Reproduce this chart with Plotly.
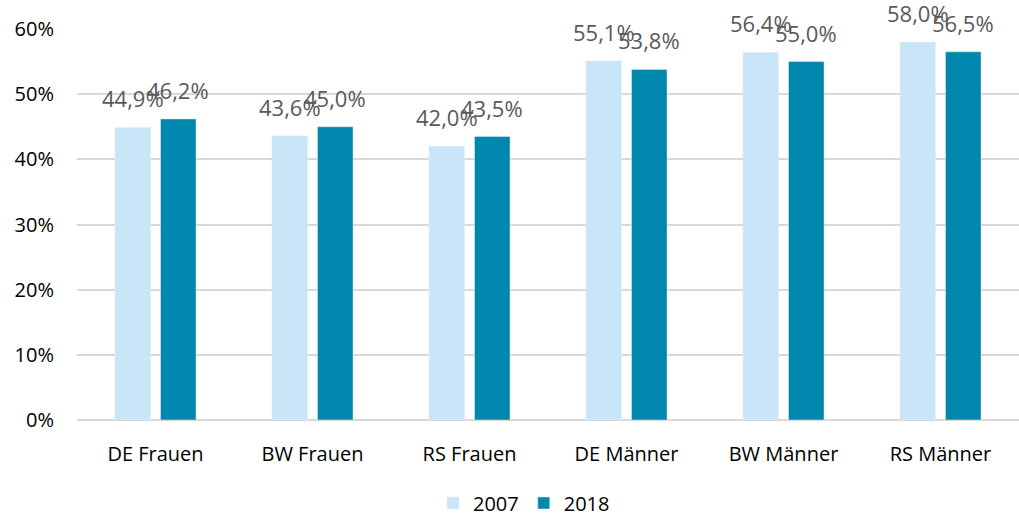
import plotly.graph_objects as go

categories = ["DE Frauen", "BW Frauen", "RS Frauen", "DE Männer", "BW Männer", "RS Männer"]
values_2007 = [44.9, 43.6, 42.0, 55.1, 56.4, 58.0]
values_2018 = [46.2, 45.0, 43.5, 53.8, 55.0, 56.5]
series_names = ["2007", "2018"]
colors = ["#C9E6F9", "#0087AD"]

def fmt(v):
    return f"{v:.1f}%".replace(".", ",")

fig = go.Figure()
for name, vals, col in zip(series_names, [values_2007, values_2018], colors):
    fig.add_trace(go.Bar(
        x=categories, y=vals, name=name, marker_color=col,
        hoverinfo="x+y",
    ))

# value labels above bars
for i, (vals, shift) in enumerate([(values_2007, -22.75), (values_2018, 22.75)]):
    for c, v in zip(categories, vals):
        fig.add_annotation(x=c, y=v, text=fmt(v), showarrow=False,
                           xshift=shift, yshift=12, yanchor="bottom",
                           font=dict(size=22, color="#595959"))

fig.update_layout(
    width=1019, height=513,
    margin=dict(l=77, r=0, t=29, b=93, autoexpand=False),
    paper_bgcolor="white", plot_bgcolor="white",
    font=dict(family="Open Sans, sans-serif", size=20, color="#000000"),
    barmode="group", bargap=0.42, bargroupgap=0.22,
    legend=dict(orientation="h", x=0.4745, xanchor="center",
                yref="container", y=(513 - 503) / 513, yanchor="middle",
                font=dict(size=20), traceorder="normal"),
    showlegend=True,
)
fig.update_yaxes(range=[0, 60], dtick=10, ticksuffix="%", showgrid=True,
                 gridcolor="#D9D9D9", gridwidth=1.5, zeroline=True,
                 zerolinecolor="#D9D9D9", zerolinewidth=1.5, ticks="",
                 tickfont=dict(size=20), ticklabelstandoff=22, automargin=False)
fig.update_xaxes(showgrid=False, ticks="", tickfont=dict(size=20), showline=False,
                 ticklabelstandoff=20, automargin=False)

fig.write_html("out.html", config={"displayModeBar": False},
               post_script="document.body.style.margin='0';document.body.style.overflow='hidden';")
